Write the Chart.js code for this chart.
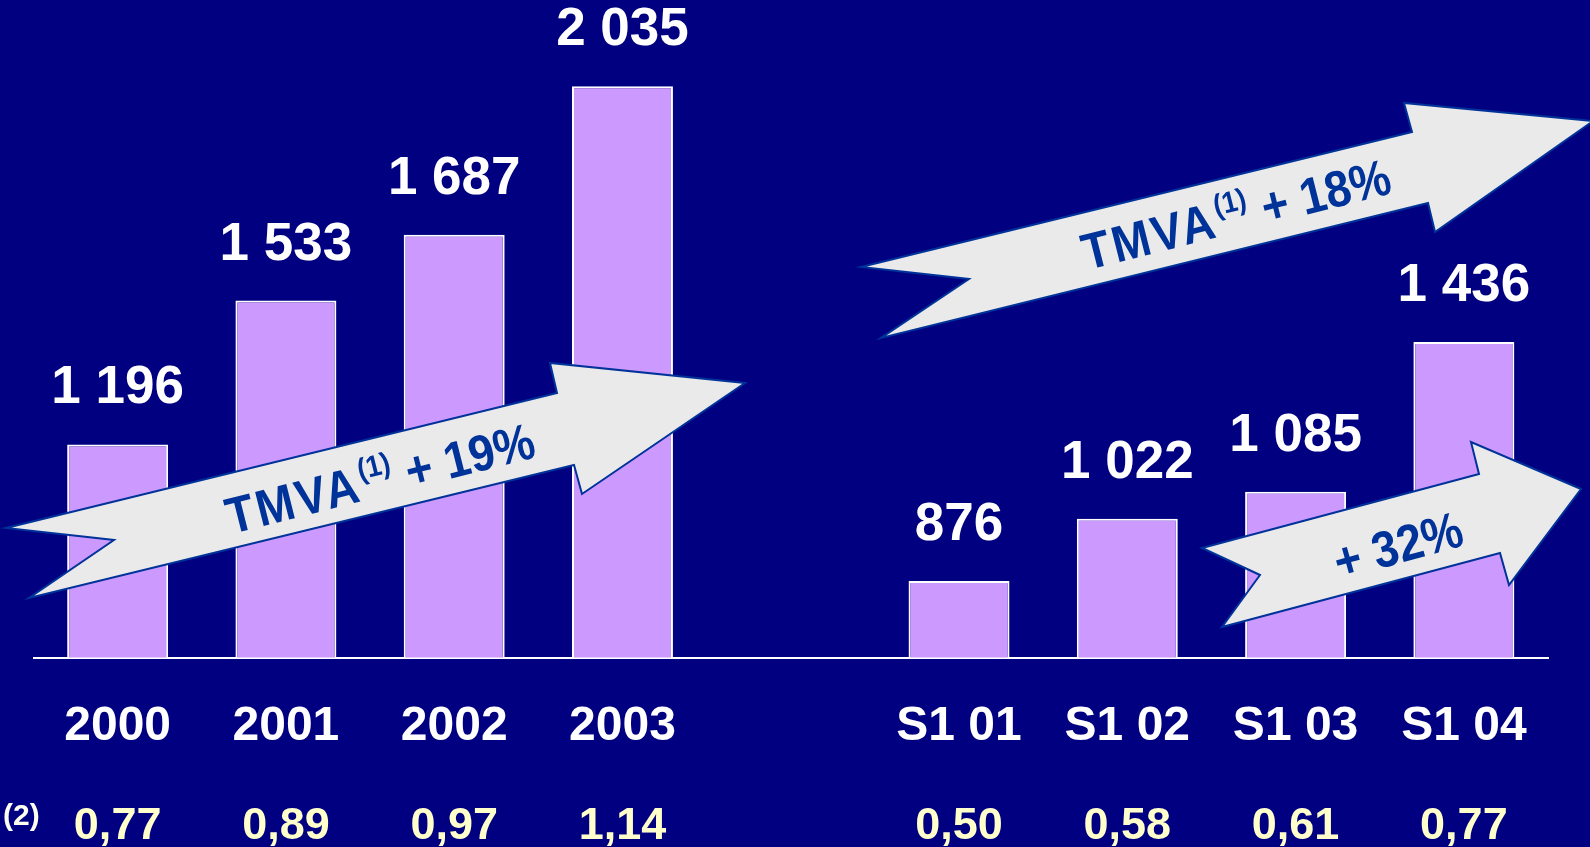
<!DOCTYPE html>
<html>
<head>
<meta charset="utf-8">
<script src="https://cdn.jsdelivr.net/npm/chart.js@4"></script>
<style>
  html, body { margin: 0; padding: 0; background: #000080; }
  canvas { display: block; }
</style>
</head>
<body>
<canvas id="myChart" width="1590" height="847"></canvas>
<script>
// data
const categories = ['2000', '2001', '2002', '2003', '', 'S1 01', 'S1 02', 'S1 03', 'S1 04'];
const values = [1196, 1533, 1687, 2035, null, 876, 1022, 1085, 1436];
const ratios = [0.77, 0.89, 0.97, 1.14, null, 0.50, 0.58, 0.61, 0.77];
const yMin = 697;
const yMax = 2237;

const FONT = '"Liberation Sans", Arial, sans-serif';
const lavender = '#CC99FF';
const cream = '#FFFFCC';
const arrowBlue = '#003399';
const arrowFill = '#EAEAEA';

// growth arrows drawn on top of the bars (decoration only)
const arrows = [
    {
        pts: [[6, 528], [557, 393], [550, 363], [745, 383], [582, 494], [574, 465], [29, 598], [114, 540]],
        text: 'TMVA', sup: '(1)', rest: ' + 19%', cx: 380, cy: 478, angle: -14.2
    },
    {
        pts: [[861, 267], [1412, 132], [1404, 103], [1593, 121], [1435, 232], [1428, 203], [881, 338], [969, 279]],
        text: 'TMVA', sup: '(1)', rest: ' + 18%', cx: 1236, cy: 214, angle: -14.2
    },
    {
        pts: [[1202, 548], [1479, 474], [1471, 442], [1581, 489], [1509, 585], [1500, 553], [1222, 627], [1260, 575]],
        text: '', sup: '', rest: '+ 32%', cx: 1398, cy: 545, angle: -15.5
    }
];

function spaced(v) {
    return v.toString().replace(/\B(?=(\d{3})+(?!\d))/g, ' ');
}

const overlay = {
    id: 'overlay',
    afterDatasetsDraw(chart) {
        const c = chart.ctx;
        const meta = chart.getDatasetMeta(0);
        const xScale = chart.scales.x;

        // arrows
        arrows.forEach(a => {
            c.save();
            c.beginPath();
            a.pts.forEach((p, i) => i ? c.lineTo(p[0], p[1]) : c.moveTo(p[0], p[1]));
            c.closePath();
            c.fillStyle = arrowFill;
            c.fill();
            c.lineWidth = 2;
            c.lineJoin = 'miter';
            c.strokeStyle = arrowBlue;
            c.stroke();

            c.translate(a.cx, a.cy);
            c.rotate(a.angle * Math.PI / 180);
            c.scale(0.9, 1);
            c.fillStyle = arrowBlue;
            c.textBaseline = 'alphabetic';
            c.textAlign = 'left';
            const big = 'bold 51px ' + FONT;
            const small = 'bold 30px ' + FONT;
            c.font = big;
            c.letterSpacing = '3px';
            const w1 = c.measureText(a.text).width;
            c.letterSpacing = '0px';
            const w3 = c.measureText(a.rest).width;
            c.font = small;
            const w2 = a.sup ? c.measureText(a.sup).width + 2 : 0;
            let x = -(w1 + w2 + w3) / 2;
            const base = 18;
            c.font = big;
            c.letterSpacing = '3px';
            c.fillText(a.text, x, base);
            c.letterSpacing = '0px';
            x += w1;
            if (a.sup) {
                c.font = small;
                c.fillText(a.sup, x + 1, base - 21);
                x += w2;
            }
            c.font = big;
            c.fillText(a.rest, x, base);
            c.restore();
        });

        // value labels above bars
        c.save();
        c.textAlign = 'center';
        c.textBaseline = 'alphabetic';
        c.fillStyle = '#FFFFFF';
        c.font = 'bold 53px ' + FONT;
        meta.data.forEach((bar, i) => {
            if (values[i] == null) return;
            c.fillText(spaced(values[i]), bar.x, bar.y - 41);
        });

        // ratio row
        c.fillStyle = cream;
        c.font = 'bold 45px ' + FONT;
        ratios.forEach((r, i) => {
            if (r == null) return;
            c.fillText(r.toFixed(2).replace('.', ','), xScale.getPixelForValue(i), 839);
        });
        c.textAlign = 'left';
        c.fillStyle = '#FFFFF0';
        c.font = 'bold 30px ' + FONT;
        c.fillText('(2)', 3, 825);
        c.restore();
    }
};

const ctx = document.getElementById('myChart');

new Chart(ctx, {
    type: 'bar',
    data: {
        labels: categories,
        datasets: [{
            data: values,
            backgroundColor: lavender,
            borderColor: '#FFFFFF',
            borderWidth: 2,
            borderSkipped: 'bottom',
            barPercentage: 0.6,
            categoryPercentage: 1
        }]
    },
    options: {
        responsive: false,
        animation: false,
        layout: { padding: { left: 33.5, right: 42, top: 0, bottom: 0 } },
        plugins: {
            legend: { display: false },
            tooltip: { enabled: false }
        },
        scales: {
            x: {
                grid: { display: false, drawTicks: false },
                border: { display: true, color: '#FFFFFF', width: 2 },
                ticks: {
                    color: '#FFFFFF',
                    font: { family: FONT, size: 48, weight: 'bold' },
                    padding: 40,
                    maxRotation: 0,
                    autoSkip: false
                },
                afterFit(scale) {
                    scale.height = 189.5;
                }
            },
            y: {
                display: false,
                min: yMin,
                max: yMax
            }
        }
    },
    plugins: [overlay]
});
</script>
</body>
</html>
